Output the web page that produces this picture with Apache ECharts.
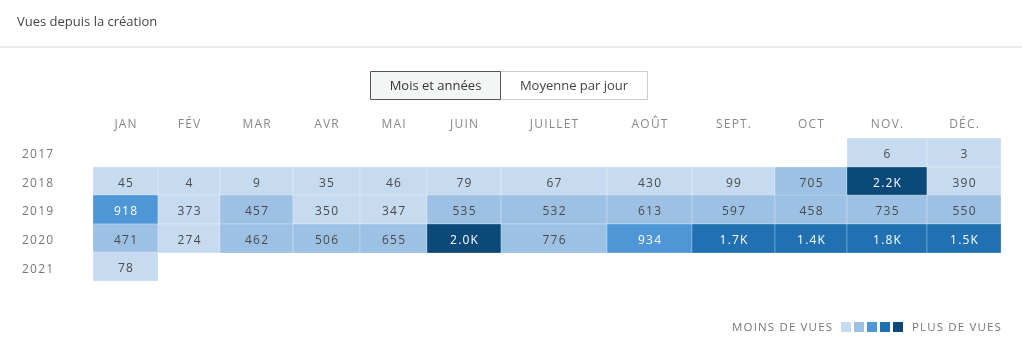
<!DOCTYPE html>
<html>
<head>
<meta charset="utf-8">
<script src="https://cdn.jsdelivr.net/npm/echarts@6/dist/echarts.min.js"></script>
<style>
  html, body { margin: 0; padding: 0; background: #fff; }
  #viewsChart { width: 1022px; height: 351px; }
</style>
</head>
<body>
<div id="viewsChart"></div>
<script>
// mois et années
const months = ['JAN', 'FÉV', 'MAR', 'AVR', 'MAI', 'JUIN', 'JUILLET', 'AOÛT', 'SEPT.', 'OCT', 'NOV.', 'DÉC.']
const years = ['2017', '2018', '2019', '2020', '2021']
// vues par mois (null = pas de données)
const views2017 = [null, null, null, null, null, null, null, null, null, null, 6, 3]
const views2018 = [45, 4, 9, 35, 46, 79, 67, 430, 99, 705, 2200, 390]
const views2019 = [918, 373, 457, 350, 347, 535, 532, 613, 597, 458, 735, 550]
const views2020 = [471, 274, 462, 506, 655, 2000, 776, 934, 1700, 1400, 1800, 1500]
const views2021 = [78, null, null, null, null, null, null, null, null, null, null, null]
const viewsByYear = [views2017, views2018, views2019, views2020, views2021]

// largeur relative des colonnes (le tableau n'a pas des colonnes égales)
const colWidths = [65, 62, 73, 67, 67, 74, 106, 85, 83, 72, 80, 74]
const colStarts = []
colWidths.reduce((acc, w) => { colStarts.push(acc); return acc + w }, 0)
const totalWidth = colWidths.reduce((a, b) => a + b, 0)

const palette = ['#c6dbef', '#9dc0e5', '#4f96d7', '#2170b1', '#0b4a78']

let cells = []
viewsByYear.forEach((row, y) => {
  row.forEach((v, m) => {
    if (v !== null) cells.push([m, y, v])
  })
})

function fmt (v) {
  return v >= 1000 ? (v / 1000).toFixed(1) + 'K' : String(v)
}
// espacement des lettres (letterSpacing n'est pas pris en compte par le canvas)
function spaced (s) {
  return s.split('').join('\u200A')
}

const font = '"Open Sans", sans-serif'

let myChart = echarts.init(document.getElementById('viewsChart'))
let option = {
  animation: false,
  textStyle: { fontFamily: font },
  grid: { left: 93, right: 21, top: 138, bottom: 70 },
  xAxis: { type: 'value', min: 0, max: totalWidth, show: false },
  yAxis: {
    type: 'category',
    data: years,
    inverse: true,
    axisLine: { show: false },
    axisTick: { show: false },
    splitLine: { show: false },
    axisLabel: {
      align: 'left',
      margin: 71,
      formatter: (v) => '{y|' + spaced(v) + '}',
      rich: {
        y: { color: '#777', fontSize: 12, fontFamily: font, padding: [5, 0, 0, 0] }
      }
    }
  },
  visualMap: {
    type: 'piecewise',
    show: false,
    seriesIndex: 0,
    dimension: 2,
    pieces: [
      { lt: 450, color: palette[0] },
      { gte: 450, lt: 900, color: palette[1] },
      { gte: 900, lt: 1200, color: palette[2] },
      { gte: 1200, lt: 1900, color: palette[3] },
      { gte: 1900, color: palette[4] }
    ]
  },
  series: [
    {
      type: 'custom',
      data: cells,
      encode: { x: 0, y: 1 },
      renderItem: (params, api) => {
        const m = api.value(0)
        const v = api.value(2)
        const bandH = api.size([0, 1])[1]
        const p0 = api.coord([colStarts[m], api.value(1)])
        const p1 = api.coord([colStarts[m] + colWidths[m], api.value(1)])
        const x = Math.round(p0[0])
        const w = Math.round(p1[0]) - x
        const y = Math.round(p0[1] - bandH / 2)
        const h = Math.round(bandH)
        return {
          type: 'rect',
          shape: { x: x, y: y, width: w, height: h },
          style: {
            fill: api.visual('color'),
            stroke: 'rgba(255,255,255,0.25)',
            lineWidth: 1
          },
          textConfig: { position: 'inside', offset: [0, 2] },
          textContent: {
            style: {
              text: spaced(fmt(v)),
              fill: v >= 900 ? '#fff' : '#4a4a4a',
              fontSize: 12,
              fontFamily: font
            }
          }
        }
      }
    },
    {
      type: 'custom',
      data: months.map((name, i) => [i, 0, name]),
      encode: { x: 0, y: 1 },
      silent: true,
      renderItem: (params, api) => {
        const i = api.value(0)
        const p = api.coord([colStarts[i] + colWidths[i] / 2, 0])
        return {
          type: 'text',
          x: p[0],
          y: params.coordSys.y - 13,
          style: {
            text: spaced(months[i]),
            fill: '#888',
            fontSize: 12,
            fontFamily: font,
            align: 'center',
            verticalAlign: 'middle'
          }
        }
      }
    }
  ],
  graphic: [
    { type: 'text', left: 17, top: 16, style: { text: 'Vues depuis la création', fill: '#444', fontSize: 13, fontFamily: font } },
    { type: 'rect', shape: { x: 0, y: 46, width: 1022, height: 2 }, style: { fill: '#ebebeb' } },
    { type: 'rect', shape: { x: 370.5, y: 71.5, width: 130, height: 28 }, style: { fill: '#f4f6f6', stroke: '#555', lineWidth: 1 }, z: 2 },
    { type: 'rect', shape: { x: 500.5, y: 71.5, width: 147, height: 28 }, style: { fill: '#fff', stroke: '#ccc', lineWidth: 1 }, z: 1 },
    { type: 'text', x: 435.5, y: 86.5, z: 3, style: { text: 'Mois et années', fill: '#333', fontSize: 13, fontFamily: font, align: 'center', verticalAlign: 'middle' } },
    { type: 'text', x: 574, y: 86.5, z: 3, style: { text: 'Moyenne par jour', fill: '#444', fontSize: 13, fontFamily: font, align: 'center', verticalAlign: 'middle' } },
    { type: 'text', x: 832, y: 328, style: { text: spaced('MOINS DE VUES'), fill: '#777', fontSize: 11.5, fontFamily: font, align: 'right', verticalAlign: 'middle' } },
    ...palette.map((c, i) => ({ type: 'rect', shape: { x: 841 + i * 13, y: 322, width: 10, height: 10 }, style: { fill: c } })),
    { type: 'text', x: 912, y: 328, style: { text: spaced('PLUS DE VUES'), fill: '#777', fontSize: 11.5, fontFamily: font, align: 'left', verticalAlign: 'middle' } }
  ]
}
myChart.setOption(option)
</script>
</body>
</html>
